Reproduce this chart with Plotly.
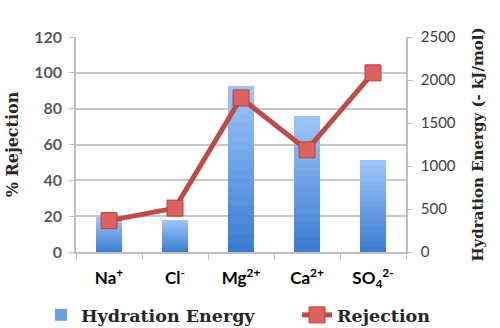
import plotly.graph_objects as go

categories = ["Na<sup>+</sup>", "Cl<sup>-</sup>", "Mg<sup>2+</sup>", "Ca<sup>2+</sup>", "SO<sub>4</sub><sup>2-</sup>"]
hydration_energy = [410, 375, 1925, 1585, 1065]
rejection = [17.5, 24.5, 86, 57, 100]
left_ticks = [0, 20, 40, 60, 80, 100, 120]
right_ticks = [0, 500, 1000, 1500, 2000, 2500]

N = 18
bottom = (58, 124, 210)
top = (158, 197, 250)

def mix(t):
    return "rgb(%d,%d,%d)" % tuple(round(b + (tp - b) * t) for b, tp in zip(bottom, top))

fig = go.Figure()
for k in range(N):
    t = (k + 0.5) / N
    fig.add_trace(go.Bar(
        x=categories,
        y=[v / N for v in hydration_energy],
        marker=dict(color=mix(t), line=dict(width=0)),
        name="Hydration Energy",
        legendgroup="he",
        showlegend=(k == 8),
        legend="legend",
        yaxis="y",
    ))

fig.add_trace(go.Scatter(
    x=categories,
    y=rejection,
    mode="lines+markers",
    name="Rejection",
    line=dict(color="#be4b48", width=5),
    marker=dict(symbol="square", size=16, color="#dc625e", line=dict(color="#b4423e", width=1)),
    yaxis="y2",
    legend="legend2",
))

serif = "DejaVu Serif"
sans = "Lato"
legend_font = dict(family=serif, size=17.5, color="#262626", weight="bold")

fig.update_layout(
    width=500, height=328,
    margin=dict(l=76, r=94, t=37, b=76, autoexpand=False),
    paper_bgcolor="white", plot_bgcolor="white",
    barmode="stack", bargap=0.6,
    xaxis=dict(
        type="category", showline=True, linecolor="#bfbfbf", linewidth=1.5,
        ticks="outside", tickson="boundaries", ticklen=6, tickcolor="#bfbfbf",
        tickfont=dict(family=sans, size=17, color="black", weight="bold"),
        ticklabelstandoff=10,
        showgrid=False, automargin=False,
    ),
    yaxis=dict(
        side="right", range=[0, 2500], tickvals=right_ticks, showgrid=False,
        showline=True, linecolor="#bfbfbf", linewidth=1.5, ticks="outside", ticklen=5, tickcolor="#bfbfbf",
        tickfont=dict(family=sans, size=15, color="#404040"),
        ticklabelstandoff=5,
        title=dict(text="Hydration Energy (- kJ/mol)", standoff=18,
                   font=dict(family=serif, size=15, color="#262626", weight="bold")),
        zeroline=False, automargin=False,
    ),
    yaxis2=dict(
        overlaying="y", side="left", range=[0, 120], tickvals=left_ticks,
        showgrid=True, gridcolor="#c8c8c8", gridwidth=1.5,
        showline=True, linecolor="#bfbfbf", linewidth=1.5, ticks="outside", ticklen=5, tickcolor="#bfbfbf",
        tickfont=dict(family=sans, size=16, color="#595959", weight="bold"),
        ticklabelstandoff=4,
        title=dict(text="% Rejection", standoff=12,
                   font=dict(family=serif, size=16, color="#262626", weight="bold")),
        zeroline=False, automargin=False,
    ),
    legend=dict(
        orientation="h", x=(41 - 76) / 330, xanchor="left", y=-63 / 215, yanchor="middle",
        font=legend_font, itemwidth=30,
    ),
    legend2=dict(
        orientation="h", x=(297 - 76) / 330, xanchor="left", y=-63 / 215, yanchor="middle",
        font=legend_font, itemwidth=30,
    ),
)

fig.write_html("out.html", config={"displayModeBar": False},
               post_script="document.body.style.margin='0';document.body.style.padding='0';")
